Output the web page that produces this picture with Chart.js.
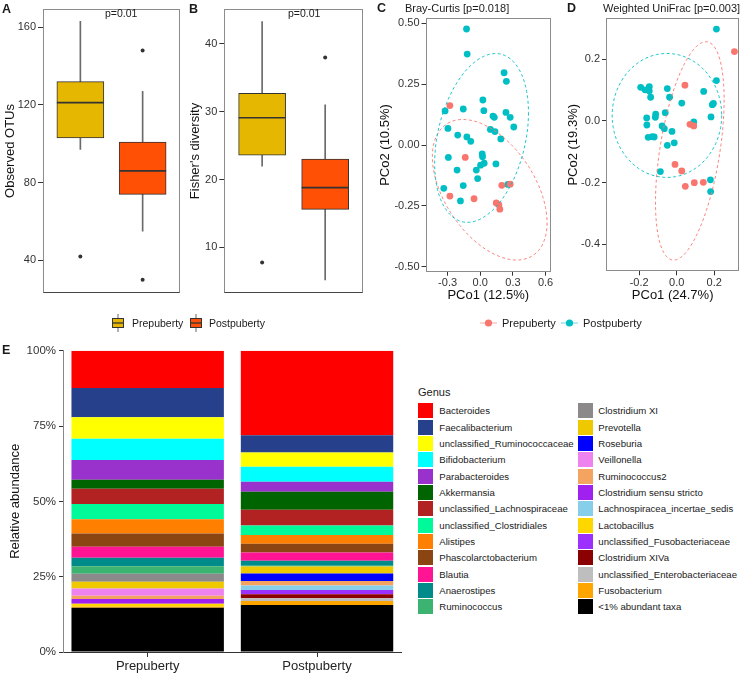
<!DOCTYPE html>
<html><head><meta charset="utf-8">
<script src="https://cdn.jsdelivr.net/npm/chart.js@4.4.0/dist/chart.umd.min.js"></script>
<style>
body{margin:0;background:#fff;width:745px;height:673px;position:relative;overflow:hidden;font-family:"Liberation Sans",Arial,Helvetica,sans-serif;color:#1a1a1a}
canvas{position:absolute}
.t{position:absolute;white-space:nowrap;line-height:1}
.lab{font-weight:bold;font-size:12.5px}
.sw{position:absolute;width:15px;height:15px}
.lt{position:absolute;font-size:9.6px;white-space:nowrap;line-height:15px}
</style></head><body>
<canvas id="cA" width="185" height="302" style="left:0;top:0"></canvas>
<canvas id="cB" width="187" height="302" style="left:180px;top:0"></canvas>
<canvas id="cC" width="185" height="305" style="left:370px;top:0"></canvas>
<canvas id="cD" width="190" height="305" style="left:555px;top:0"></canvas>
<canvas id="cE" width="410" height="333" style="left:0;top:340px"></canvas>

<div class="t lab" style="left:2px;top:3px">A</div>
<div class="t lab" style="left:189px;top:3px">B</div>
<div class="t lab" style="left:377px;top:2px">C</div>
<div class="t lab" style="left:567px;top:2px">D</div>
<div class="t lab" style="left:2px;top:344px">E</div>
<div class="t" style="left:105px;top:8px;font-size:10.5px">p=0.01</div>
<div class="t" style="left:288px;top:8px;font-size:10.5px">p=0.01</div>
<div class="t" style="left:405px;top:3px;font-size:11px">Bray-Curtis [p=0.018]</div>
<div class="t" style="left:603px;top:3px;font-size:11px">Weighted UniFrac [p=0.003]</div>

<!-- legend for A/B -->
<svg style="position:absolute;left:111px;top:314px" width="14" height="18"><line x1="7" y1="0" x2="7" y2="18" stroke="#666"/><rect x="1.5" y="4.5" width="11" height="9" fill="#E5B700" stroke="#333"/><line x1="1.5" y1="9" x2="12.5" y2="9" stroke="#333" stroke-width="1.3"/></svg>
<div class="t" style="left:132px;top:318px;font-size:10.5px">Prepuberty</div>
<svg style="position:absolute;left:189px;top:314px" width="14" height="18"><line x1="7" y1="0" x2="7" y2="18" stroke="#666"/><rect x="1.5" y="4.5" width="11" height="9" fill="#FF5005" stroke="#333"/><line x1="1.5" y1="9" x2="12.5" y2="9" stroke="#333" stroke-width="1.3"/></svg>
<div class="t" style="left:209px;top:318px;font-size:10.5px">Postpuberty</div>
<!-- legend for C/D -->
<svg style="position:absolute;left:480px;top:316px" width="17" height="14"><line x1="0" y1="7" x2="17" y2="7" stroke="#F8766D" stroke-opacity="0.6"/><circle cx="8.5" cy="7" r="3.6" fill="#F8766D"/></svg>
<div class="t" style="left:502px;top:318px;font-size:11px">Prepuberty</div>
<svg style="position:absolute;left:561px;top:316px" width="17" height="14"><line x1="0" y1="7" x2="17" y2="7" stroke="#00BFC4" stroke-opacity="0.6"/><circle cx="8.5" cy="7" r="3.6" fill="#00BFC4"/></svg>
<div class="t" style="left:583px;top:318px;font-size:11px">Postpuberty</div>

<div class="t" style="left:418px;top:387px;font-size:11px">Genus</div>
<div id="legE"></div>

<script>
// ---------------- data ----------------
const groups = ['Prepuberty', 'Postpuberty'];

// Panel A: Observed OTUs (box stats per group)
const otuLow = [97.1, 55];
const otuQ1 = [103, 73.9];
const otuMed = [121.1, 86];
const otuQ3 = [131.9, 100.8];
const otuHigh = [162.9, 127];
const otuOutliers = [[42], [147.9, 30]];
const otuTicks = [40, 80, 120, 160];

// Panel B: Fisher's diversity
const fisLow = [21.95, 5.2];
const fisQ1 = [23.6, 15.6];
const fisMed = [29.1, 18.8];
const fisQ3 = [32.7, 23];
const fisHigh = [43.3, 31];
const fisOutliers = [[7.75], [38]];
const fisTicks = [10, 20, 30, 40];

// Panel C: Bray-Curtis PCoA
const cPreX = [-0.279, -0.138, -0.279, -0.057, 0.198, 0.275, 0.147, 0.171, 0.180];
const cPreY = [0.162, -0.051, -0.210, -0.221, -0.166, -0.161, -0.238, -0.246, -0.264];
const cPostX = [-0.126, -0.120, 0.219, 0.240, 0.024, 0.033, -0.156, -0.323, 0.117, 0.129, 0.236, 0.275, 0.308, -0.297, 0.093, 0.135, 0.189, -0.207, -0.123, -0.087, 0.018, 0.021, -0.293, 0.036, 0.003, -0.036, 0.144, -0.213, -0.024, -0.156, -0.335, -0.182, 0.254];
const cPostY = [0.477, 0.374, 0.297, 0.262, 0.185, 0.141, 0.148, 0.140, 0.119, 0.114, 0.134, 0.114, 0.074, 0.068, 0.064, 0.055, 0.025, 0.041, 0.033, 0.015, -0.037, -0.048, -0.051, -0.075, -0.083, -0.103, -0.078, -0.103, -0.138, -0.167, -0.178, -0.230, -0.162];
const cXTicks = [-0.3, 0.0, 0.3, 0.6];
const cYTicks = [-0.5, -0.25, 0, 0.25, 0.5];
// ellipses: centre x, centre y, half width, half height, correlation
const cEllPre = [0.087, -0.184, 0.527, 0.289, -0.47];
const cEllPost = [0.012, 0.029, 0.431, 0.347, 0.30];

// Panel D: Weighted UniFrac PCoA
const dPreX = [0.308, 0.044, 0.071, 0.091, -0.009, 0.027, 0.046, 0.094, 0.142];
const dPreY = [0.225, 0.116, -0.011, -0.016, -0.141, -0.162, -0.212, -0.200, -0.199];
const dPostX = [0.212, 0.212, -0.192, -0.169, -0.146, -0.146, -0.139, -0.050, -0.038, 0.027, 0.144, 0.196, 0.190, 0.183, -0.160, -0.112, -0.114, -0.061, -0.159, -0.078, -0.066, -0.025, -0.152, -0.130, -0.120, -0.050, -0.013, -0.087, 0.091, 0.180, 0.181];
const dPostY = [0.298, 0.131, 0.109, 0.101, 0.111, 0.097, 0.077, 0.105, 0.077, 0.058, 0.096, 0.057, 0.053, 0.013, 0.010, 0.022, 0.012, 0.027, -0.013, -0.016, -0.025, -0.034, -0.053, -0.051, -0.052, -0.079, -0.071, -0.164, -0.003, -0.191, -0.229];
const dXTicks = [-0.2, 0.0, 0.2];
const dYTicks = [-0.4, -0.2, 0.0, 0.2];
const dEllPre = [0.070, -0.097, 0.183, 0.354, 0.47];
const dEllPost = [-0.052, 0.018, 0.292, 0.201, 0.0];

// Panel E: relative abundance (%), legend order (top of stack first)
const genus = ['Bacteroides', 'Faecalibacterium', 'unclassified_Ruminococcaceae', 'Bifidobacterium', 'Parabacteroides', 'Akkermansia', 'unclassified_Lachnospiraceae', 'unclassified_Clostridiales', 'Alistipes', 'Phascolarctobacterium', 'Blautia', 'Anaerostipes', 'Ruminococcus', 'Clostridium XI', 'Prevotella', 'Roseburia', 'Veillonella', 'Ruminococcus2', 'Clostridium sensu stricto', 'Lachnospiracea_incertae_sedis', 'Lactobacillus', 'unclassified_Fusobacteriaceae', 'Clostridium XIVa', 'unclassified_Enterobacteriaceae', 'Fusobacterium', '<1% abundant taxa'];
const prePct = [12.35, 9.7, 7.2, 7.0, 6.6, 3.0, 5.0, 5.1, 4.75, 4.4, 3.65, 2.75, 2.55, 2.65, 2.2, 0, 2.45, 1.1, 1.55, 0, 1.0, 0, 0, 0, 0.3, 14.7];
const postPct = [28.1, 5.65, 4.75, 5.0, 3.3, 6.0, 5.2, 3.2, 2.85, 2.9, 2.75, 1.7, 0.2, 0, 2.35, 2.45, 0, 1.55, 0, 1.45, 0, 1.45, 1.35, 0.9, 1.3, 15.6];
const pctTicks = [0, 25, 50, 75, 100];

// ---------------- styles ----------------
const genusColors = ['#FF0000', '#27408B', '#FFFF00', '#00FFFF', '#9932CC', '#006400', '#B22222', '#00FA9A', '#FF7F00', '#8B4513', '#FF1493', '#008B8B', '#3CB371', '#8B8989', '#EEC900', '#0000FF', '#EE82EE', '#F4A460', '#A020F0', '#87CEEB', '#FFD700', '#9B30FF', '#8B0000', '#BEBEBE', '#FFA500', '#000000'];
const boxColors = ['#E5B700', '#FF5005'];
const preCol = '#F8766D', postCol = '#00BFC4';

Chart.defaults.font.family = '"Liberation Sans", Arial, Helvetica, sans-serif';
Chart.defaults.color = '#222';

const framePlugin = {
  id: 'frame',
  afterDraw(chart, args, opts) {
    const {left, top, right, bottom} = chart.chartArea;
    const ctx = chart.ctx;
    ctx.save();
    ctx.strokeStyle = opts.color || '#8c8c8c';
    ctx.lineWidth = 1;
    const l = Math.round(left) + 0.5, t = Math.round(top) + 0.5, r = Math.round(right) - 0.5, b = Math.round(bottom) - 0.5;
    ctx.strokeRect(l, t, r - l, b - t);
    if (opts.bottomColor) {
      ctx.strokeStyle = opts.bottomColor;
      ctx.beginPath(); ctx.moveTo(l, b); ctx.lineTo(r, b); ctx.stroke();
    }
    ctx.restore();
  }
};

const medianPlugin = {
  id: 'medians',
  afterDatasetsDraw(chart, args, opts) {
    const meta = chart.getDatasetMeta(0);
    const ys = chart.scales.y, ctx = chart.ctx;
    ctx.save();
    ctx.strokeStyle = '#333';
    ctx.lineWidth = 1.7;
    meta.data.forEach((el, i) => {
      const p = el.getProps(['x', 'width'], true);
      const py = ys.getPixelForValue(opts.values[i]);
      ctx.beginPath(); ctx.moveTo(p.x - p.width / 2, py); ctx.lineTo(p.x + p.width / 2, py); ctx.stroke();
    });
    ctx.restore();
  }
};

const ellipsePlugin = {
  id: 'ellipses',
  afterDatasetsDraw(chart, args, opts) {
    const xs = chart.scales.x, ys = chart.scales.y, ctx = chart.ctx, ca = chart.chartArea;
    const sx = xs.getPixelForValue(1) - xs.getPixelForValue(0);
    const sy = ys.getPixelForValue(0) - ys.getPixelForValue(1);
    ctx.save();
    ctx.beginPath(); ctx.rect(ca.left, ca.top, ca.right - ca.left, ca.bottom - ca.top); ctx.clip();
    ctx.setLineDash([3, 2.5]);
    ctx.lineWidth = 0.9;
    opts.list.forEach(e => {
      const [ex, ey, hw, hh, r] = e.p;
      const cx = xs.getPixelForValue(ex), cy = ys.getPixelForValue(ey);
      const W = hw * sx, H = hh * sy;
      const uy = -r * H, vy = H * Math.sqrt(1 - r * r);
      ctx.strokeStyle = e.color;
      ctx.beginPath();
      for (let k = 0; k <= 160; k++) {
        const t = k / 160 * 2 * Math.PI;
        const px = cx + Math.cos(t) * W;
        const py = cy + Math.cos(t) * uy + Math.sin(t) * vy;
        if (k) ctx.lineTo(px, py); else ctx.moveTo(px, py);
      }
      ctx.stroke();
    });
    ctx.restore();
  }
};

function boxChart(id, low, q1, med, q3, high, outliers, yMin, yMax, yTicks, yTitle, leftW, titlePad, padR) {
  const outPts = [];
  outliers.forEach((arr, i) => arr.forEach(v => outPts.push({x: i + 1, y: v})));
  return new Chart(document.getElementById(id), {
    type: 'bar',
    data: {datasets: [
      {type: 'bar', data: groups.map((g, i) => ({x: i + 1, y: [q1[i], q3[i]]})), backgroundColor: boxColors, borderColor: '#333', borderWidth: 1, borderSkipped: false, barThickness: 47, grouped: false, order: 1},
      {type: 'bar', data: groups.map((g, i) => ({x: i + 1, y: [low[i], high[i]]})), backgroundColor: '#6a6a6a', borderWidth: 0, barThickness: 1, grouped: false, order: 2},
      {type: 'scatter', data: outPts, pointRadius: 2, backgroundColor: '#333', borderWidth: 0, order: 0}
    ]},
    options: {
      responsive: false, animation: false, devicePixelRatio: 1,
      layout: {padding: {top: 2, bottom: 2, right: padR, left: 0}},
      plugins: {legend: {display: false}, tooltip: {enabled: false}, frame: {bottomColor: '#444'}, medians: {values: med}},
      scales: {
        x: {type: 'linear', min: 0.4, max: 2.6, display: false, offset: false},
        y: {
          min: yMin, max: yMax,
          afterBuildTicks: ax => { ax.ticks = yTicks.map(v => ({value: v})); },
          afterFit: ax => { ax.width = leftW; },
          grid: {drawOnChartArea: false, tickLength: 5, color: '#333'},
          border: {display: false},
          ticks: {font: {size: 11}, padding: 2, color: '#333'},
          title: {display: true, text: yTitle, font: {size: 13}, color: '#111', padding: {top: titlePad, bottom: 0}}
        }
      }
    },
    plugins: [framePlugin, medianPlugin]
  });
}

function pcoChart(id, preX, preY, postX, postY, ellPre, ellPost, xr, yr, xt, yt, yDec, xTitle, yTitle, leftW, xH, padR, titlePad) {
  return new Chart(document.getElementById(id), {
    type: 'scatter',
    data: {datasets: [
      {data: preX.map((x, i) => ({x, y: preY[i]})), backgroundColor: preCol, pointRadius: 3.4, borderWidth: 0},
      {data: postX.map((x, i) => ({x, y: postY[i]})), backgroundColor: postCol, pointRadius: 3.4, borderWidth: 0}
    ]},
    options: {
      responsive: false, animation: false, devicePixelRatio: 1,
      layout: {padding: {top: 18.3, bottom: 0, right: padR, left: 0}},
      plugins: {legend: {display: false}, tooltip: {enabled: false}, frame: {},
        ellipses: {list: [{p: ellPre, color: preCol}, {p: ellPost, color: postCol}]}},
      scales: {
        x: {
          type: 'linear', min: xr[0], max: xr[1],
          afterBuildTicks: ax => { ax.ticks = xt.map(v => ({value: v})); },
          afterFit: ax => { ax.height = xH; },
          grid: {drawOnChartArea: false, tickLength: 4, color: '#333'},
          border: {display: false},
          ticks: {font: {size: 11}, padding: 1, color: '#333', maxRotation: 0, callback: v => v.toFixed(1)},
          title: {display: true, text: xTitle, font: {size: 13}, color: '#111', padding: {top: 0, bottom: 2.2}}
        },
        y: {
          min: yr[0], max: yr[1],
          afterBuildTicks: ax => { ax.ticks = yt.map(v => ({value: v})); },
          afterFit: ax => { ax.width = leftW; },
          grid: {drawOnChartArea: false, tickLength: 4, color: '#333'},
          border: {display: false},
          ticks: {font: {size: 11}, padding: 2, color: '#333', callback: v => v.toFixed(yDec)},
          title: {display: true, text: yTitle, font: {size: 13}, color: '#111', padding: {top: titlePad, bottom: 0}}
        }
      }
    },
    plugins: [ellipsePlugin, framePlugin]
  });
}

boxChart('cA', otuLow, otuQ1, otuMed, otuQ3, otuHigh, otuOutliers, 23, 169.5, otuTicks, 'Observed OTUs', 43, 2.2, 5);
boxChart('cB', fisLow, fisQ1, fisMed, fisQ3, fisHigh, fisOutliers, 3.2, 45.2, fisTicks, "Fisher's diversity", 44.3, 7.2, 3);
pcoChart('cC', cPreX, cPreY, cPostX, cPostY, cEllPre, cEllPost, [-0.503, 0.65], [-0.521, 0.521], cXTicks, cYTicks, 2, 'PCo1 (12.5%)', 'PCo2 (10.5%)', 55.5, 33.3, 1.7, 7.2);
pcoChart('cD', dPreX, dPreY, dPostX, dPostY, dEllPre, dEllPost, [-0.377, 0.334], [-0.4875, 0.333], dXTicks, dYTicks, 1, 'PCo1 (24.7%)', 'PCo2 (19.3%)', 51, 33.7, 5.7, 10.2);

// Panel E: stacked bars (bottom of stack = last legend entry)
const eSets = genus.map((g, i) => ({label: g, data: [prePct[i], postPct[i]], backgroundColor: genusColors[i], borderWidth: 0})).reverse();
new Chart(document.getElementById('cE'), {
  type: 'bar',
  data: {labels: groups, datasets: eSets},
  options: {
    responsive: false, animation: false, devicePixelRatio: 1,
    layout: {padding: {top: 10.7, right: 8.3, left: 0, bottom: 0}},
    plugins: {legend: {display: false}, tooltip: {enabled: false}},
    datasets: {bar: {barPercentage: 0.9, categoryPercentage: 1}},
    scales: {
      x: {
        stacked: true,
        afterFit: ax => { ax.height = 21; },
        grid: {drawOnChartArea: false, tickLength: 5, color: '#333', offset: false},
        border: {color: '#333'},
        ticks: {font: {size: 13}, padding: 2, color: '#222'}
      },
      y: {
        stacked: true, min: 0, max: 100,
        afterBuildTicks: ax => { ax.ticks = pctTicks.map(v => ({value: v})); },
        afterFit: ax => { ax.width = 63; },
        grid: {drawOnChartArea: false, tickLength: 4, color: '#333'},
        border: {color: '#888'},
        ticks: {font: {size: 11.5}, padding: 3, color: '#333', callback: v => v + '%'},
        title: {display: true, text: 'Relative abundance', font: {size: 13}, color: '#111', padding: {top: 7.5, bottom: 0}}
      }
    }
  }
});

// Legend for E (two columns)
const leg = document.getElementById('legE');
genus.forEach((g, i) => {
  const col = i < 13 ? 0 : 1, row = i % 13;
  const sx = col ? 577.7 : 418, tx = col ? 598.3 : 439.3;
  const y = 403.3 + row * 16.33;
  const sw = document.createElement('div');
  sw.className = 'sw';
  sw.style.left = sx + 'px'; sw.style.top = y + 'px'; sw.style.background = genusColors[i];
  leg.appendChild(sw);
  const tx_ = document.createElement('div');
  tx_.className = 'lt';
  tx_.style.left = tx + 'px'; tx_.style.top = y + 'px';
  tx_.textContent = g;
  leg.appendChild(tx_);
});
</script>
</body></html>
